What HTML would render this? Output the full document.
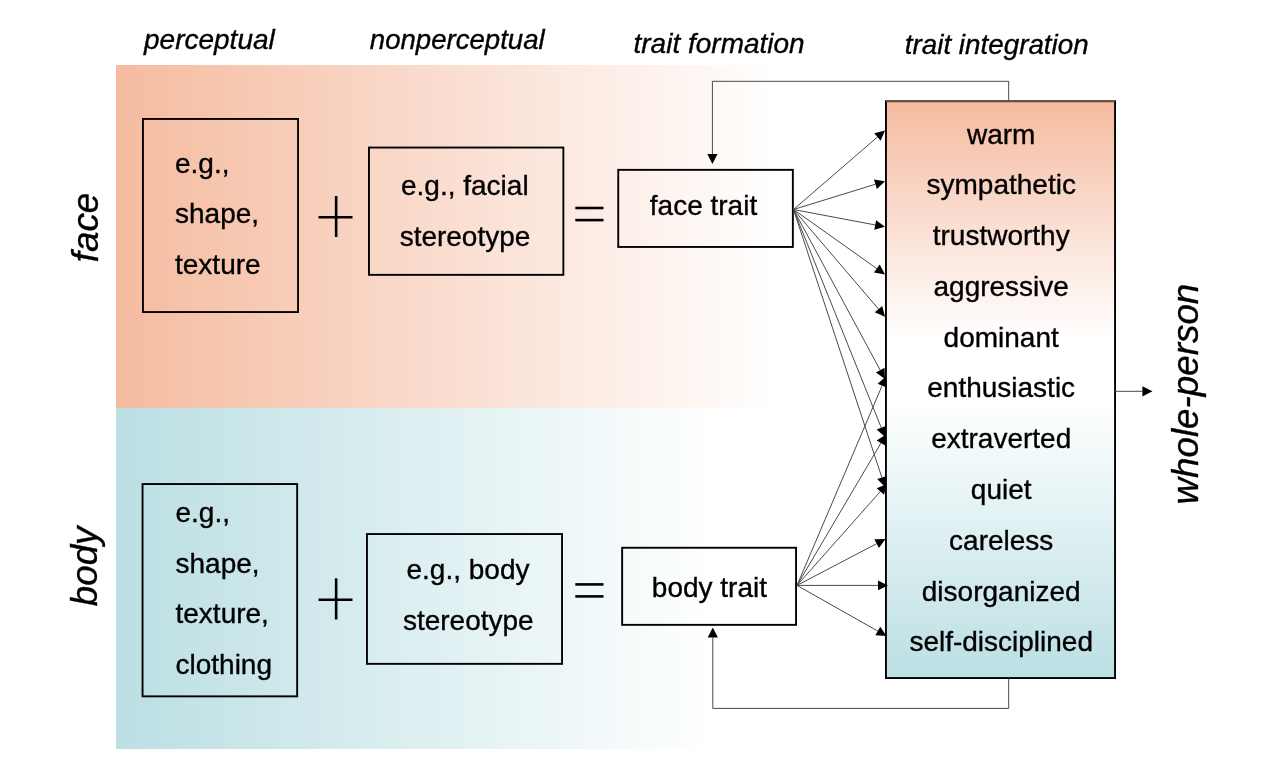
<!DOCTYPE html>
<html><head><meta charset="utf-8"><style>
html,body{margin:0;padding:0;background:#fff;}
svg{will-change:transform;}
svg{display:block;}
text{font-family:"Liberation Sans",sans-serif;fill:#000;stroke:#000;stroke-width:0.35px;}
.i{font-style:italic;}
</style></head><body>
<svg width="1268" height="761" viewBox="0 0 1268 761">
<defs>
<linearGradient id="gf" x1="116" y1="0" x2="776" y2="0" gradientUnits="userSpaceOnUse">
<stop offset="0" stop-color="#F5BBA0"/><stop offset="1" stop-color="#fff"/></linearGradient>
<linearGradient id="gb" x1="116" y1="0" x2="715" y2="0" gradientUnits="userSpaceOnUse">
<stop offset="0" stop-color="#BBDFE3"/><stop offset="1" stop-color="#fff"/></linearGradient>
<linearGradient id="gv" x1="0" y1="101" x2="0" y2="678" gradientUnits="userSpaceOnUse">
<stop offset="0" stop-color="#F5BBA0"/><stop offset="0.41" stop-color="#fff"/><stop offset="0.52" stop-color="#fff"/><stop offset="1" stop-color="#BBDFE3"/></linearGradient>
</defs>
<rect x="116" y="65" width="690" height="343" fill="url(#gf)"/>
<rect x="116" y="408" width="690" height="341" fill="url(#gb)"/>

<text x="144" y="49" font-size="28" text-anchor="start" class="i" >perceptual</text>
<text x="369.8" y="49.2" font-size="27.6" text-anchor="start" class="i" >nonperceptual</text>
<text x="633.5" y="52.8" font-size="28" text-anchor="start" class="i" >trait formation</text>
<text x="904.8" y="54" font-size="27.8" text-anchor="start" class="i" >trait integration</text>
<text transform="translate(98,262.3) rotate(-90)" font-size="36.8" class="i">face</text>
<text transform="translate(97,606.3) rotate(-90)" font-size="36.8" class="i">body</text>
<text transform="translate(1197.5,504.6) rotate(-90)" font-size="36.8" class="i">whole-person</text>
<rect x="142.95" y="118.95" width="155.1" height="193.1" fill="none" stroke="#000" stroke-width="1.9"/>
<rect x="368.95" y="147.54999999999998" width="194.39999999999995" height="127.30000000000001" fill="none" stroke="#000" stroke-width="1.9"/>
<rect x="618.25" y="169.85" width="174.6" height="77.1" fill="none" stroke="#000" stroke-width="1.9"/>
<rect x="142.54999999999998" y="484.05" width="154.60000000000002" height="212.29999999999993" fill="none" stroke="#000" stroke-width="1.9"/>
<rect x="366.95" y="534.0500000000001" width="195.1" height="129.79999999999993" fill="none" stroke="#000" stroke-width="1.9"/>
<rect x="622.1500000000001" y="547.75" width="173.89999999999995" height="77.1" fill="none" stroke="#000" stroke-width="1.9"/>
<rect x="885.95" y="101.15" width="229.1" height="576.9" fill="url(#gv)" stroke="#000" stroke-width="1.9"/>
<line x1="886" y1="101.0" x2="1115" y2="101.0" stroke="#fff" stroke-width="1.8"/>
<line x1="886" y1="100.7" x2="1115" y2="100.7" stroke="#3a3a3a" stroke-width="1"/>
<line x1="886" y1="101.6" x2="1115" y2="101.6" stroke="#5a2410" stroke-width="0.9"/>
<text x="175" y="172.5" font-size="28" text-anchor="start" class="" >e.g.,</text>
<text x="175" y="223.25" font-size="28" text-anchor="start" class="" >shape,</text>
<text x="175" y="274.0" font-size="28" text-anchor="start" class="" >texture</text>
<text x="464.8" y="195.3" font-size="28" text-anchor="middle" class="" >e.g., facial</text>
<text x="465" y="246.0" font-size="28" text-anchor="middle" class="" >stereotype</text>
<text x="703.5" y="215.3" font-size="28" text-anchor="middle" class="" >face trait</text>
<text x="175.5" y="522.0" font-size="28" text-anchor="start" class="" >e.g.,</text>
<text x="175.5" y="572.5" font-size="28" text-anchor="start" class="" >shape,</text>
<text x="175.5" y="623.0" font-size="28" text-anchor="start" class="" >texture,</text>
<text x="175.5" y="673.5" font-size="28" text-anchor="start" class="" >clothing</text>
<text x="468" y="578.5" font-size="28" text-anchor="middle" class="" >e.g., body</text>
<text x="468.3" y="629.6" font-size="28" text-anchor="middle" class="" >stereotype</text>
<text x="709.4" y="597" font-size="28" text-anchor="middle" class="" >body trait</text>
<text x="1001.2" y="143.6" font-size="28" text-anchor="middle" class="" >warm</text>
<text x="1001.2" y="194.37" font-size="28" text-anchor="middle" class="" >sympathetic</text>
<text x="1001.2" y="245.14" font-size="28" text-anchor="middle" class="" >trustworthy</text>
<text x="1001.2" y="295.90999999999997" font-size="28" text-anchor="middle" class="" >aggressive</text>
<text x="1001.2" y="346.68" font-size="28" text-anchor="middle" class="" >dominant</text>
<text x="1001.2" y="397.45000000000005" font-size="28" text-anchor="middle" class="" >enthusiastic</text>
<text x="1001.2" y="448.22" font-size="28" text-anchor="middle" class="" >extraverted</text>
<text x="1001.2" y="498.99" font-size="28" text-anchor="middle" class="" >quiet</text>
<text x="1001.2" y="549.76" font-size="28" text-anchor="middle" class="" >careless</text>
<text x="1001.2" y="600.53" font-size="28" text-anchor="middle" class="" >disorganized</text>
<text x="1001.2" y="651.3000000000001" font-size="28" text-anchor="middle" class="" >self-disciplined</text>
<line x1="318.5" y1="217.3" x2="352.5" y2="217.3" stroke="#000" stroke-width="2.6" stroke-linecap="butt"/>
<line x1="336.15" y1="196" x2="336.15" y2="237" stroke="#000" stroke-width="2.6" stroke-linecap="butt"/>
<line x1="318.5" y1="599.8" x2="352.5" y2="599.8" stroke="#000" stroke-width="2.6" stroke-linecap="butt"/>
<line x1="336.15" y1="578.3" x2="336.15" y2="619.5" stroke="#000" stroke-width="2.6" stroke-linecap="butt"/>
<line x1="575.3" y1="208" x2="603.5" y2="208" stroke="#000" stroke-width="2.6" stroke-linecap="butt"/>
<line x1="575.3" y1="220.1" x2="603.5" y2="220.1" stroke="#000" stroke-width="2.6" stroke-linecap="butt"/>
<line x1="575.3" y1="584.4" x2="603.5" y2="584.4" stroke="#000" stroke-width="2.6" stroke-linecap="butt"/>
<line x1="575.3" y1="596.4" x2="603.5" y2="596.4" stroke="#000" stroke-width="2.6" stroke-linecap="butt"/>
<line x1="793.5" y1="209.5" x2="877.4308399763489" y2="137.03512176905392" stroke="#4a4a4a" stroke-width="1" stroke-linecap="butt"/>
<polygon points="885.00,130.50 880.63,140.74 874.23,133.33" fill="#000"/>
<line x1="793.5" y1="209.5" x2="875.4435658491658" y2="184.2452616727161" stroke="#4a4a4a" stroke-width="1" stroke-linecap="butt"/>
<polygon points="885.00,181.30 876.89,188.93 874.00,179.56" fill="#000"/>
<line x1="793.5" y1="209.5" x2="875.174085559198" y2="224.9422041549085" stroke="#4a4a4a" stroke-width="1" stroke-linecap="butt"/>
<polygon points="885.00,226.80 874.26,229.76 876.08,220.13" fill="#000"/>
<line x1="793.5" y1="209.5" x2="876.8434359137977" y2="268.6146337792948" stroke="#4a4a4a" stroke-width="1" stroke-linecap="butt"/>
<polygon points="885.00,274.40 874.01,272.61 879.68,264.62" fill="#000"/>
<line x1="793.5" y1="209.5" x2="878.5078767376308" y2="309.0939277188417" stroke="#4a4a4a" stroke-width="1" stroke-linecap="butt"/>
<polygon points="885.00,316.70 874.78,312.28 882.23,305.91" fill="#000"/>
<line x1="793.5" y1="209.5" x2="880.2497167426707" y2="370.2002949495374" stroke="#4a4a4a" stroke-width="1" stroke-linecap="butt"/>
<polygon points="885.00,379.00 875.94,372.53 884.56,367.87" fill="#000"/>
<line x1="793.5" y1="209.5" x2="881.2685217963734" y2="427.72228096912505" stroke="#4a4a4a" stroke-width="1" stroke-linecap="butt"/>
<polygon points="885.00,437.00 876.72,429.55 885.81,425.89" fill="#000"/>
<line x1="793.5" y1="209.5" x2="881.8685402505643" y2="477.50294994023596" stroke="#4a4a4a" stroke-width="1" stroke-linecap="butt"/>
<polygon points="885.00,487.00 877.21,479.04 886.52,475.97" fill="#000"/>
<line x1="797" y1="585.4" x2="882.0804819581285" y2="385.69985751625774" stroke="#4a4a4a" stroke-width="1" stroke-linecap="butt"/>
<polygon points="886.00,376.50 886.59,387.62 877.57,383.78" fill="#000"/>
<line x1="797" y1="585.4" x2="880.9198240269424" y2="443.1134669026338" stroke="#4a4a4a" stroke-width="1" stroke-linecap="butt"/>
<polygon points="886.00,434.50 885.14,445.60 876.70,440.62" fill="#000"/>
<line x1="797" y1="585.4" x2="880.361857041898" y2="491.47897439946155" stroke="#4a4a4a" stroke-width="1" stroke-linecap="butt"/>
<polygon points="887.00,484.00 884.03,494.73 876.70,488.23" fill="#000"/>
<line x1="797" y1="585.4" x2="876.6434481564712" y2="543.6434350908445" stroke="#4a4a4a" stroke-width="1" stroke-linecap="butt"/>
<polygon points="885.50,539.00 878.92,547.98 874.37,539.30" fill="#000"/>
<line x1="797" y1="585.4" x2="878.0" y2="585.4" stroke="#4a4a4a" stroke-width="1" stroke-linecap="butt"/>
<polygon points="888.00,585.40 878.00,590.30 878.00,580.50" fill="#000"/>
<line x1="797" y1="585.4" x2="877.7949151153514" y2="631.07846597583" stroke="#4a4a4a" stroke-width="1" stroke-linecap="butt"/>
<polygon points="886.50,636.00 875.38,635.34 880.21,626.81" fill="#000"/>
<polyline points="1008.7,100.5 1008.7,81.3 712.4,81.3 712.4,154" fill="none" stroke="#4a4a4a" stroke-width="1"/>
<polygon points="712.4,164 707.3,154 717.5,154" fill="#000"/>
<polyline points="1008.7,678.5 1008.7,708.4 712.8,708.4 712.8,637.6" fill="none" stroke="#4a4a4a" stroke-width="1"/>
<polygon points="712.8,627.6 707.7,637.6 717.9,637.6" fill="#000"/>
<line x1="1115" y1="391.3" x2="1142.5" y2="391.3" stroke="#4a4a4a" stroke-width="1" stroke-linecap="butt"/>
<polygon points="1152.5,391.3 1142.4,386.2 1142.4,396.5" fill="#000"/>
</svg></body></html>
